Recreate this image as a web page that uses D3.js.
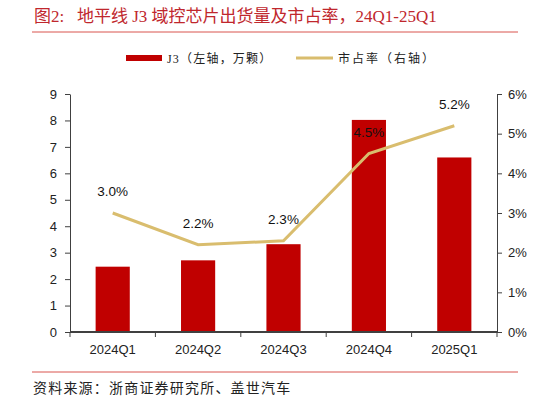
<!DOCTYPE html>
<html>
<head>
<meta charset="utf-8">
<script src="https://cdn.jsdelivr.net/npm/d3@7"></script>
<style>
  body { margin: 0; background: #fff; }
  svg { display: block; }
</style>
</head>
<body>
<div id="chart"></div>
<script>
// data
const categories = ["2024Q1", "2024Q2", "2024Q3", "2024Q4", "2025Q1"];
const shipments = [2.47, 2.71, 3.32, 8.02, 6.6];   // 万颗, left axis
const shareVals = [3.0, 2.2, 2.3, 4.5, 5.2];        // %, right axis
const leftTicks = [0, 1, 2, 3, 4, 5, 6, 7, 8, 9];
const rightTicks = [0, 1, 2, 3, 4, 5, 6];

const W = 548, H = 403;
const margin = {left: 70, right: 51, top: 94, bottom: 71};
const red = "#C00000", tan = "#D9BD6E", axisCol = "#404040";
const latin = "'Liberation Sans', Arial, sans-serif";
const cjk = "'Liberation Serif', 'Noto Sans CJK SC', serif";

const svg = d3.select("#chart").append("svg").attr("width", W).attr("height", H);

// title + rules
svg.append("text").attr("x", 34).attr("y", 22)
  .attr("font-family", cjk).attr("font-size", "17px").attr("fill", "#C0272D")
  .attr("xml:space", "preserve")
  .text("图2:   地平线 J3 域控芯片出货量及市占率，24Q1-25Q1");
svg.append("line").attr("x1", 32).attr("x2", 518).attr("y1", 32).attr("y2", 32)
  .attr("stroke", "#D9544F").attr("stroke-width", 1);
svg.append("line").attr("x1", 32).attr("x2", 518).attr("y1", 372).attr("y2", 372)
  .attr("stroke", "#D9544F").attr("stroke-width", 1);
svg.append("text").attr("x", 33).attr("y", 393)
  .attr("font-family", cjk).attr("font-size", "14px").attr("fill", "#222")
  .attr("letter-spacing", "1.2px")
  .text("资料来源：浙商证券研究所、盖世汽车");

// legend
svg.append("rect").attr("x", 126).attr("y", 55).attr("width", 36).attr("height", 6).attr("fill", red);
svg.append("text").attr("x", 167).attr("y", 63).attr("font-family", cjk).attr("font-size", "12px")
  .attr("fill", "#222").attr("letter-spacing", "1.2px").text("J3（左轴，万颗）");
svg.append("line").attr("x1", 296).attr("x2", 333).attr("y1", 58).attr("y2", 58)
  .attr("stroke", tan).attr("stroke-width", 3);
svg.append("text").attr("x", 338).attr("y", 63).attr("font-family", cjk).attr("font-size", "12px")
  .attr("fill", "#222").attr("letter-spacing", "2px").text("市占率（右轴）");

const x = d3.scaleBand().domain(categories)
  .range([margin.left, W - margin.right]).paddingInner(0.6).paddingOuter(0.3);
const yL = d3.scaleLinear().domain([0, 9]).range([H - margin.bottom, margin.top]);
const yR = d3.scaleLinear().domain([0, 6]).range([H - margin.bottom, margin.top]);

// bars
svg.append("g").selectAll("rect").data(shipments).join("rect")
  .attr("x", (d, i) => x(categories[i]))
  .attr("width", x.bandwidth())
  .attr("y", d => yL(d))
  .attr("height", d => yL(0) - yL(d))
  .attr("fill", red);

// line
const cx = c => x(c) + x.bandwidth() / 2;
const line = d3.line().x((d, i) => cx(categories[i])).y(d => yR(d));
svg.append("path").datum(shareVals).attr("d", line)
  .attr("fill", "none").attr("stroke", tan).attr("stroke-width", 3);

svg.append("g").selectAll("text").data(shareVals).join("text")
  .attr("x", (d, i) => cx(categories[i]))
  .attr("y", d => yR(d) - 17)
  .attr("text-anchor", "middle")
  .attr("font-family", latin).attr("font-size", "13.5px").attr("fill", "#111")
  .text(d => d.toFixed(1) + "%");

// axes
const styleAxis = g => {
  g.selectAll("text").attr("font-family", latin).attr("font-size", "13px").attr("fill", "#222");
  g.selectAll("line").attr("stroke", axisCol);
  g.select(".domain").attr("stroke", axisCol);
};

svg.append("g").attr("transform", `translate(${margin.left},0)`)
  .call(d3.axisLeft(yL).tickValues(leftTicks).tickSize(5).tickSizeOuter(0).tickPadding(8))
  .call(styleAxis);

svg.append("g").attr("transform", `translate(${W - margin.right},0)`)
  .call(d3.axisRight(yR).tickValues(rightTicks).tickSize(5).tickSizeOuter(0).tickPadding(6)
    .tickFormat(d => d + "%"))
  .call(styleAxis);

// x axis: ticks at band boundaries
const xg = svg.append("g").attr("transform", `translate(0,${yL(0)})`);
xg.append("line").attr("x1", margin.left).attr("x2", W - margin.right)
  .attr("stroke", axisCol).attr("stroke-width", 2);
const bounds = d3.range(categories.length + 1).map(i => margin.left + i * (W - margin.left - margin.right) / categories.length);
xg.selectAll("line.tk").data(bounds).join("line").attr("class", "tk")
  .attr("x1", d => d).attr("x2", d => d).attr("y1", 0).attr("y2", 5).attr("stroke", axisCol);
xg.selectAll("text").data(categories).join("text")
  .attr("x", d => cx(d)).attr("y", 22).attr("text-anchor", "middle")
  .attr("font-family", latin).attr("font-size", "13px").attr("fill", "#222")
  .text(d => d);
</script>
</body>
</html>
